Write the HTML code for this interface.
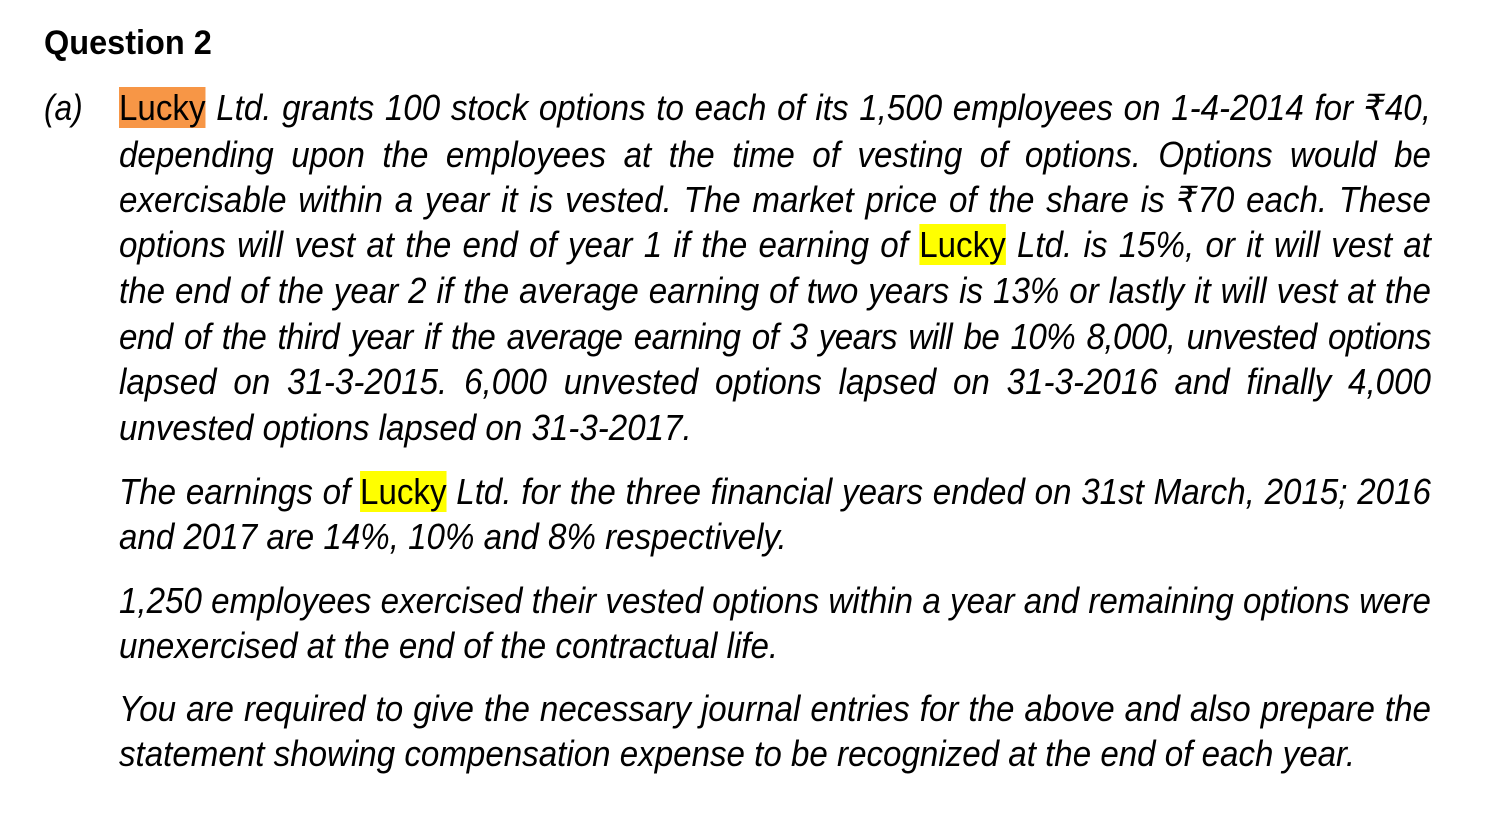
<!DOCTYPE html>
<html><head><meta charset="utf-8">
<style>
html,body{margin:0;padding:0;background:#fff;}
body{width:1502px;height:840px;position:relative;overflow:hidden;font-family:"Liberation Sans","DejaVu Sans",sans-serif;color:#000;}
.t{position:absolute;left:44px;top:22px;font-weight:bold;font-size:34px;line-height:42px;transform:scaleX(0.955);transform-origin:0 0;white-space:nowrap;}
.a{position:absolute;left:44px;top:85px;font-style:italic;font-size:36px;line-height:46px;transform:scaleX(0.88);transform-origin:0 0;}
.l{position:absolute;left:119px;width:1426px;height:46px;line-height:46px;font-size:36px;font-style:italic;transform:scaleX(0.92);transform-origin:0 0;white-space:nowrap;}
.j{text-align:justify;text-align-last:justify;white-space:normal;}
.o{background:#F79646;font-style:normal;}
.y{background:#FFFF00;font-style:normal;}
</style></head><body>
<div class="t">Question 2</div>
<div class="a">(a)</div>
<div class="l j" style="top:85px"><span class="o">Lucky</span> Ltd. grants 100 stock options to each of its 1,500 employees on 1-4-2014 for ₹40,</div>
<div class="l j" style="top:132px">depending upon the employees at the time of vesting of options. Options would be</div>
<div class="l j" style="top:177px">exercisable within a year it is vested. The market price of the share is ₹70 each. These</div>
<div class="l j" style="top:222px">options will vest at the end of year 1 if the earning of <span class="y">Lucky</span> Ltd. is 15%, or it will vest at</div>
<div class="l j" style="top:268px">the end of the year 2 if the average earning of two years is 13% or lastly it will vest at the</div>
<div class="l j" style="top:314px;letter-spacing:-0.6px">end of the third year if the average earning of 3 years will be 10% 8,000, unvested options</div>
<div class="l j" style="top:359px">lapsed on 31-3-2015. 6,000 unvested options lapsed on 31-3-2016 and finally 4,000</div>
<div class="l" style="top:405px">unvested options lapsed on 31-3-2017.</div>
<div class="l j" style="top:469px">The earnings of <span class="y">Lucky</span> Ltd. for the three financial years ended on 31st March, 2015; 2016</div>
<div class="l" style="top:514px">and 2017 are 14%, 10% and 8% respectively.</div>
<div class="l j" style="top:578px">1,250 employees exercised their vested options within a year and remaining options were</div>
<div class="l" style="top:623px">unexercised at the end of the contractual life.</div>
<div class="l j" style="top:686px">You are required to give the necessary journal entries for the above and also prepare the</div>
<div class="l" style="top:731px">statement showing compensation expense to be recognized at the end of each year.</div>
</body></html>
